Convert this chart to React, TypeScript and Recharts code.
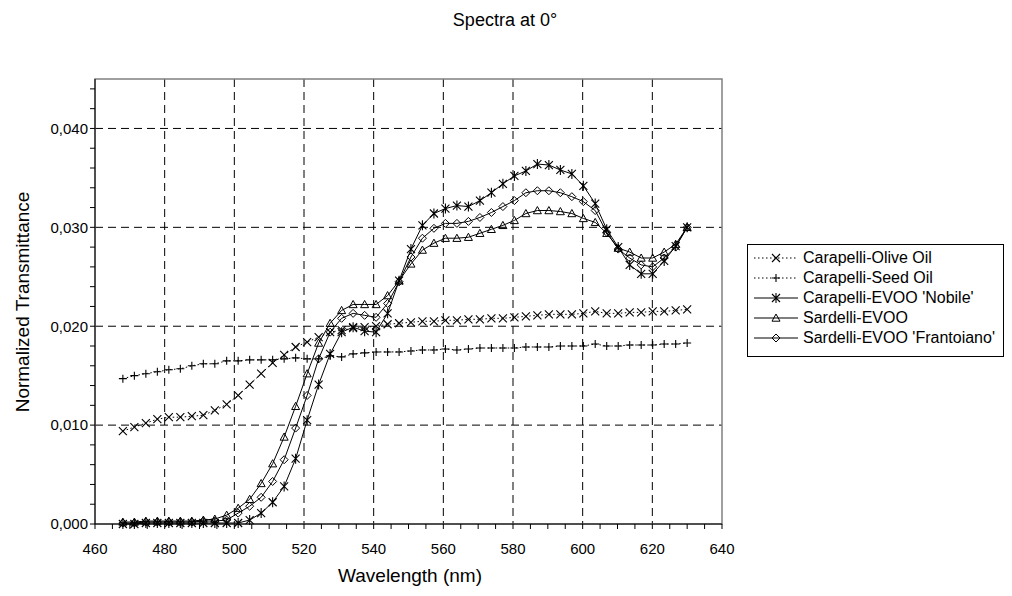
import React from 'react';
import { LineChart, Line, XAxis, YAxis, CartesianGrid, Legend, ReferenceArea, Label } from 'recharts';

const FONT = '"Liberation Sans", Arial, sans-serif';

const wavelengths = [
  468.0, 471.3, 474.6, 477.9, 481.2, 484.5, 487.8, 491.1, 494.4, 497.8,
  501.1, 504.4, 507.7, 511.0, 514.3, 517.6, 520.9, 524.2, 527.5, 530.8,
  534.1, 537.4, 540.7, 544.0, 547.3, 550.7, 554.0, 557.3, 560.6, 563.9,
  567.2, 570.5, 573.8, 577.1, 580.4, 583.7, 587.0, 590.3, 593.6, 596.9,
  600.2, 603.6, 606.9, 610.2, 613.5, 616.8, 620.1, 623.4, 626.7, 630.0,
];

const carapelliOliveOil = [
  0.0094, 0.0098, 0.0102, 0.0106, 0.0108, 0.0108, 0.0109, 0.0110, 0.0115, 0.0121,
  0.0130, 0.0141, 0.0152, 0.0163, 0.0171, 0.0179, 0.0184, 0.0189, 0.0194, 0.0196,
  0.0198, 0.0199, 0.0200, 0.0202, 0.0203, 0.0204, 0.0205, 0.0205, 0.0206, 0.0206,
  0.0207, 0.0207, 0.0208, 0.0208, 0.0209, 0.0210, 0.0211, 0.0212, 0.0212, 0.0212,
  0.0213, 0.0215, 0.0213, 0.0213, 0.0214, 0.0214, 0.0215, 0.0215, 0.0216, 0.0217,
];

const carapelliSeedOil = [
  0.0147, 0.0150, 0.0152, 0.0154, 0.0156, 0.0157, 0.0160, 0.0162, 0.0162, 0.0165,
  0.0165, 0.0166, 0.0166, 0.0166, 0.0167, 0.0168, 0.0167, 0.0167, 0.0170, 0.0169,
  0.0172, 0.0173, 0.0174, 0.0174, 0.0174, 0.0175, 0.0176, 0.0176, 0.0177, 0.0176,
  0.0177, 0.0178, 0.0178, 0.0178, 0.0178, 0.0179, 0.0179, 0.0179, 0.0180, 0.0180,
  0.0180, 0.0182, 0.0180, 0.0180, 0.0181, 0.0181, 0.0181, 0.0182, 0.0182, 0.0183,
];

const carapelliNobile = [
  0.0000, 0.0000, 0.0001, 0.0001, 0.0001, 0.0001, 0.0001, 0.0001, 0.0001, 0.0001,
  0.0001, 0.0004, 0.0011, 0.0022, 0.0038, 0.0066, 0.0105, 0.0141, 0.0172, 0.0194,
  0.0199, 0.0195, 0.0194, 0.0213, 0.0246, 0.0278, 0.0302, 0.0314, 0.0319, 0.0322,
  0.0321, 0.0327, 0.0335, 0.0344, 0.0352, 0.0357, 0.0364, 0.0363, 0.0358, 0.0354,
  0.0342, 0.0324, 0.0298, 0.0280, 0.0262, 0.0253, 0.0253, 0.0266, 0.0281, 0.0300,
];

const sardelliEvoo = [
  0.0002, 0.0002, 0.0003, 0.0003, 0.0003, 0.0003, 0.0003, 0.0004, 0.0005, 0.0009,
  0.0016, 0.0025, 0.0041, 0.0061, 0.0088, 0.0119, 0.0152, 0.0183, 0.0203, 0.0216,
  0.0222, 0.0222, 0.0222, 0.0231, 0.0246, 0.0263, 0.0277, 0.0284, 0.0289, 0.0289,
  0.0290, 0.0294, 0.0298, 0.0302, 0.0307, 0.0314, 0.0317, 0.0317, 0.0316, 0.0314,
  0.0309, 0.0305, 0.0294, 0.0279, 0.0275, 0.0269, 0.0269, 0.0275, 0.0283, 0.0300,
];

const sardelliFrantoiano = [
  0.0001, 0.0001, 0.0002, 0.0002, 0.0002, 0.0002, 0.0002, 0.0003, 0.0003, 0.0004,
  0.0011, 0.0018, 0.0027, 0.0043, 0.0065, 0.0097, 0.0130, 0.0167, 0.0194, 0.0208,
  0.0213, 0.0211, 0.0209, 0.0223, 0.0245, 0.0270, 0.0289, 0.0299, 0.0304, 0.0304,
  0.0306, 0.0310, 0.0315, 0.0321, 0.0327, 0.0335, 0.0337, 0.0337, 0.0335, 0.0331,
  0.0326, 0.0317, 0.0295, 0.0278, 0.0269, 0.0262, 0.0260, 0.0269, 0.0280, 0.0300,
];

const xMajorTicks = [460, 480, 500, 520, 540, 560, 580, 600, 620, 640];
const xAllTicks = [
  460, 465, 470, 475, 480, 485, 490, 495, 500, 505, 510, 515, 520, 525, 530, 535, 540, 545, 550,
  555, 560, 565, 570, 575, 580, 585, 590, 595, 600, 605, 610, 615, 620, 625, 630, 635, 640,
];
const yMajorTicks = [0, 0.01, 0.02, 0.03, 0.04];
const yAllTicks = [
  0, 0.002, 0.004, 0.006, 0.008, 0.01, 0.012, 0.014, 0.016, 0.018, 0.02, 0.022,
  0.024, 0.026, 0.028, 0.03, 0.032, 0.034, 0.036, 0.038, 0.04, 0.042, 0.044,
];

const rows = wavelengths.map((w, i) => ({
  w,
  olive: carapelliOliveOil[i],
  seed: carapelliSeedOil[i],
  nobile: carapelliNobile[i],
  sardelli: sardelliEvoo[i],
  frantoiano: sardelliFrantoiano[i],
}));

const S = 4;
type MP = { cx?: number; cy?: number };

const XMark = ({ cx = 0, cy = 0 }: MP) => (
  <path d={`M${cx - S},${cy - S}L${cx + S},${cy + S}M${cx - S},${cy + S}L${cx + S},${cy - S}`} stroke="#000" strokeWidth={1.1} fill="none" />
);
const PlusMark = ({ cx = 0, cy = 0 }: MP) => (
  <path d={`M${cx - S},${cy}L${cx + S},${cy}M${cx},${cy - S}L${cx},${cy + S}`} stroke="#000" strokeWidth={1.1} fill="none" />
);
const StarMark = ({ cx = 0, cy = 0 }: MP) => (
  <path d={`M${cx - S},${cy - S}L${cx + S},${cy + S}M${cx - S},${cy + S}L${cx + S},${cy - S}M${cx},${cy - S - 1}L${cx},${cy + S + 1}`} stroke="#000" strokeWidth={1.1} fill="none" />
);
const TriMark = ({ cx = 0, cy = 0 }: MP) => (
  <path d={`M${cx},${cy - S}L${cx + S},${cy + S * 0.8}L${cx - S},${cy + S * 0.8}Z`} stroke="#000" strokeWidth={1} fill="none" />
);
const DiaMark = ({ cx = 0, cy = 0 }: MP) => (
  <path d={`M${cx},${cy - S}L${cx + S},${cy}L${cx},${cy + S}L${cx - S},${cy}Z`} stroke="#000" strokeWidth={1} fill="none" />
);

const SERIES = [
  { key: 'olive', name: 'Carapelli-Olive Oil', dash: '1.5 2.5', Mark: XMark },
  { key: 'seed', name: 'Carapelli-Seed Oil', dash: '1.5 2.5', Mark: PlusMark },
  { key: 'nobile', name: "Carapelli-EVOO 'Nobile'", dash: undefined, Mark: StarMark },
  { key: 'sardelli', name: 'Sardelli-EVOO', dash: undefined, Mark: TriMark },
  { key: 'frantoiano', name: "Sardelli-EVOO 'Frantoiano'", dash: undefined, Mark: DiaMark },
];

const isMultiple = (v: number, step: number) => Math.abs(v / step - Math.round(v / step)) < 1e-6;

const XTick = (props: any) => {
  const { x, y, payload } = props;
  if (!isMultiple(payload.value, 20)) return <g />;
  return (
    <text x={x} y={y} dy="0.71em" textAnchor="middle" fontSize={15} fontFamily={FONT} fill="#000">
      {String(payload.value)}
    </text>
  );
};

const YTick = (props: any) => {
  const { x, y, payload } = props;
  if (!isMultiple(payload.value, 0.01)) return <g />;
  return (
    <text x={x} y={y} dy="0.355em" textAnchor="end" fontSize={15} fontFamily={FONT} fill="#000">
      {payload.value.toFixed(3).replace('.', ',')}
    </text>
  );
};

const LegendBox = () => (
  <div style={{ display: 'inline-block', border: '1px solid #000', background: '#fff', padding: '3px 8px 8px 4px', fontFamily: FONT, fontSize: 16, color: '#000' }}>
    {SERIES.map((s) => (
      <div key={s.key} style={{ display: 'flex', alignItems: 'center', height: 20 }}>
        <svg width={48} height={20} style={{ display: 'block' }}>
          <line x1={2} y1={10} x2={46} y2={10} stroke="#000" strokeWidth={1} strokeDasharray={s.dash} />
          <s.Mark cx={24} cy={10} />
        </svg>
        <span style={{ marginLeft: 3, whiteSpace: 'nowrap' }}>{s.name}</span>
      </div>
    ))}
  </div>
);

export default function App() {
  return (
    <div style={{ position: 'relative', width: 1004, height: 588, fontFamily: FONT }}>
      <div style={{ position: 'absolute', left: 0, top: 2, width: 994, textAlign: 'center', fontSize: 18, color: '#000' }}>
        Spectra at 0°
      </div>
      <LineChart width={1004} height={588} data={rows} margin={{ top: 71, right: 290, left: 7, bottom: 12 }}>
        <CartesianGrid
          stroke="#000"
          strokeDasharray="8 5"
          horizontalValues={yMajorTicks.filter((v) => v > 0)}
          verticalValues={xMajorTicks.filter((v) => v > 460 && v < 640)}
        />
        <ReferenceArea x1={460} x2={640} y1={0} y2={0.045} fill="none" stroke="#808080" strokeWidth={1.5} />
        <XAxis
          dataKey="w"
          type="number"
          domain={[460, 640]}
          ticks={xAllTicks}
          interval={0}
          tick={<XTick />}
          tickSize={5}
          tickMargin={14}
          height={60}
          axisLine={{ stroke: '#000' }}
          tickLine={{ stroke: '#000' }}
        >
          <Label
            content={() => (
              <text x={402} y={567} textAnchor="middle" dominantBaseline="central" fontSize={19} fontFamily={FONT} fill="#000">
                Wavelength (nm)
              </text>
            )}
          />
        </XAxis>
        <YAxis
          type="number"
          domain={[0, 0.045]}
          ticks={yAllTicks}
          interval={0}
          tick={<YTick />}
          tickSize={5}
          width={80}
          axisLine={{ stroke: '#000' }}
          tickLine={{ stroke: '#000' }}
        >
          <Label
            content={() => (
              <text x={14} y={294} transform="rotate(-90 14 294)" textAnchor="middle" dominantBaseline="central" fontSize={19} fontFamily={FONT} fill="#000">
                Normalized Transmittance
              </text>
            )}
          />
        </YAxis>
        {SERIES.map((s) => (
          <Line
            key={s.key}
            dataKey={s.key}
            name={s.name}
            type="linear"
            stroke="#000"
            strokeWidth={1}
            strokeDasharray={s.dash}
            dot={(p: any) => <s.Mark key={`${s.key}-${p.index}`} cx={p.cx} cy={p.cy} />}
            activeDot={false}
            isAnimationActive={false}
          />
        ))}
        <Legend
          layout="vertical"
          align="center"
          verticalAlign="middle"
          content={() => <LegendBox />}
          wrapperStyle={{ left: 739, top: 236, width: 265 }}
        />
      </LineChart>
    </div>
  );
}
